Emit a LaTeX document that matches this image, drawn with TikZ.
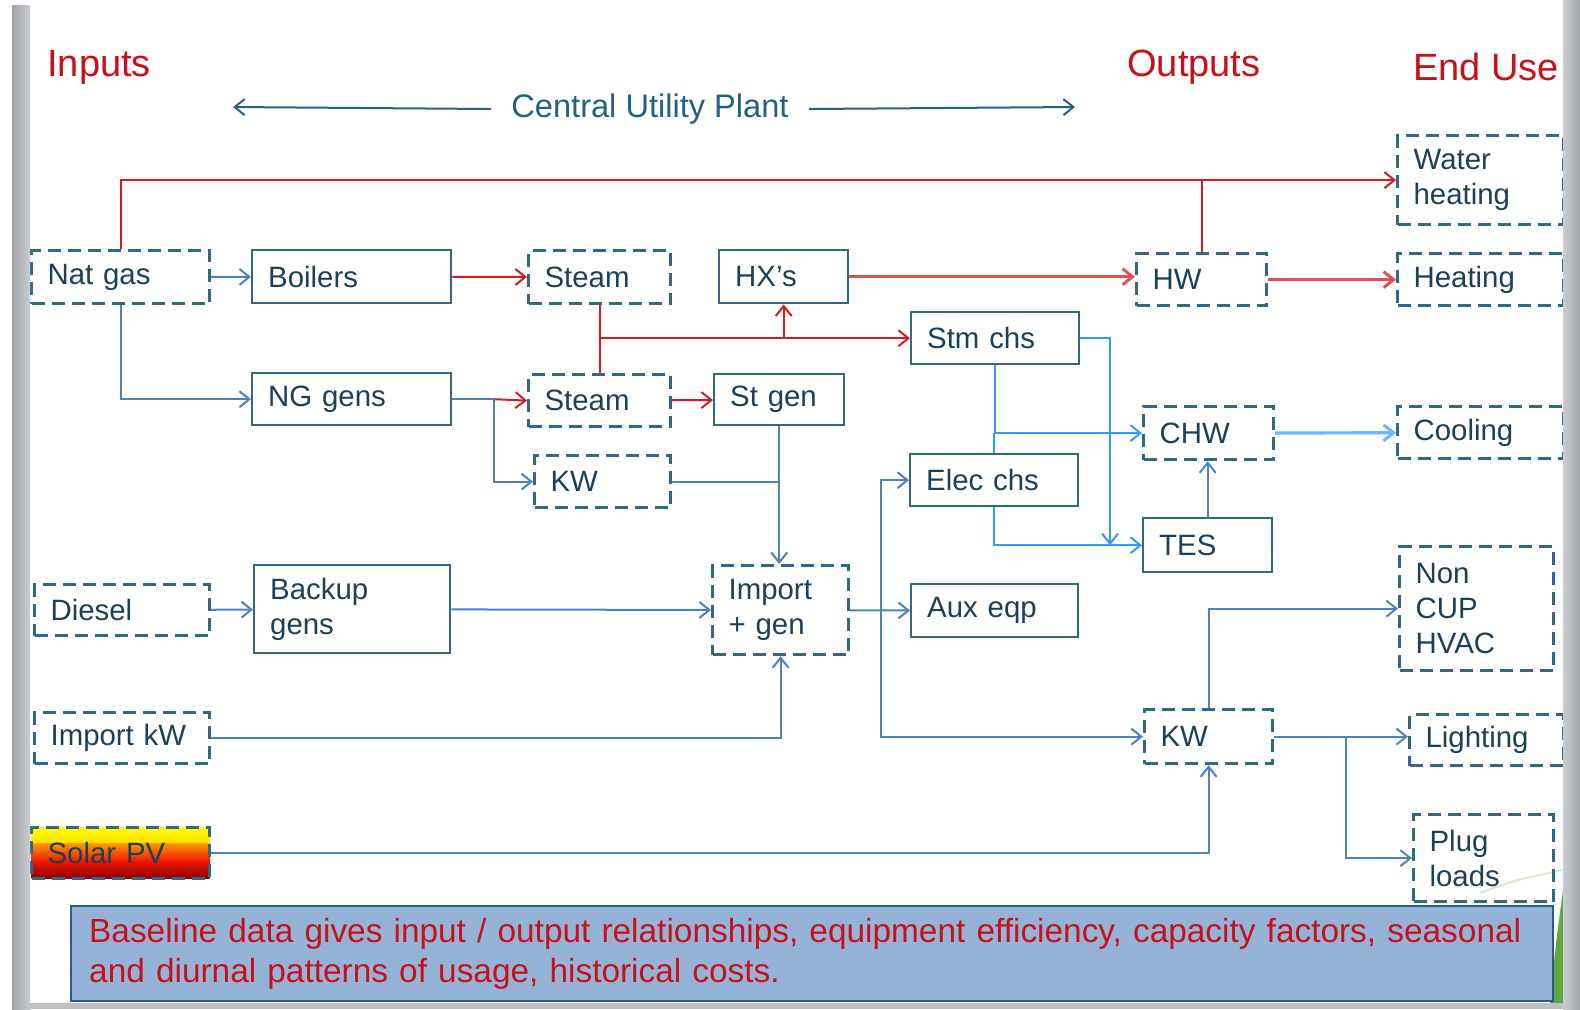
\documentclass[tikz,border=0pt]{standalone}
\usepackage{fontspec}
\setmainfont{Liberation Sans}
\usepackage{tikz}
\usetikzlibrary{arrows.meta,shapes}

\definecolor{titleRed}{RGB}{200,16,24}
\definecolor{flowRed}{RGB}{212,28,32}
\definecolor{hotRed}{RGB}{222,82,82}
\definecolor{flowBlue}{RGB}{79,129,189}
\definecolor{chillBlue}{RGB}{51,153,255}
\definecolor{coolBlue}{RGB}{110,182,255}
\definecolor{boxLine}{RGB}{49,104,133}
\definecolor{boxText}{RGB}{26,64,92}
\definecolor{plantTeal}{RGB}{36,96,128}
\definecolor{noteFill}{RGB}{149,179,215}
\definecolor{noteLine}{RGB}{40,92,140}
\definecolor{frameGray}{RGB}{160,164,169}
\definecolor{leafGreen}{RGB}{96,168,60}
\definecolor{sunOrange}{RGB}{255,150,0}
\definecolor{sunRed}{RGB}{240,20,0}
\definecolor{sunDark}{RGB}{130,0,0}

\newcommand\boxFont{\fontsize{14.7}{17.5}\selectfont}

\tikzset{
  solidBox/.style={draw=boxLine, line width=1.2pt, anchor=north west, text=boxText,
    font=\boxFont, align=left, inner xsep=8pt, inner ysep=0pt},
  dashBox/.style={solidBox, line width=1.6pt, dash pattern=on 6.5pt off 3.5pt},
  solarFill/.style={path picture={
    \shade[top color=yellow, bottom color=sunOrange]
      (path picture bounding box.north west) rectangle ([yshift=-8pt]path picture bounding box.north east);
    \shade[top color=sunOrange, bottom color=sunRed]
      ([yshift=-8pt]path picture bounding box.north west) rectangle ([yshift=-17pt]path picture bounding box.north east);
    \shade[top color=sunRed, bottom color=sunDark]
      ([yshift=-17pt]path picture bounding box.north west) rectangle (path picture bounding box.south east);}},
  redFlow/.style={flowRed, line width=1pt},
  hotFlow/.style={hotRed, line width=1.5pt},
  elecFlow/.style={flowBlue, line width=1pt},
  chillFlow/.style={chillBlue, line width=1pt},
  coolFlow/.style={coolBlue, line width=1.6pt},
  headTitle/.style={anchor=west, text=titleRed, font=\fontsize{19}{22}\selectfont, inner sep=0pt}
}

\begin{document}
\begin{tikzpicture}[x=0.5pt, y=-0.5pt, >={Straight Barb[length=5pt,width=8pt]}]
\useasboundingbox (0,0) rectangle (1580,1009);
\fill[white] (0,0) rectangle (1580,1009);

% background leaf of the slide
\fill[leafGreen] (1550,1003) .. controls (1555,950) .. (1563,890) -- (1563,1003) -- cycle;
\draw[leafGreen!25, line width=1pt] (1480,893) .. controls (1515,880) .. (1563,870);

% headings
\node (inputsTitle) [headTitle] at (47,67) {Inputs};
\node (outputsTitle) [headTitle] at (1127,67) {Outputs};
\node (endUseTitle) [headTitle] at (1413,67) {End Use};
\node (plantLabel) [text=plantTeal, font=\fontsize{16.3}{19}\selectfont, inner xsep=10pt]
  at (650,109) {Central Utility Plant};
\coordinate (plantLeft) at (233,107);
\coordinate (plantRight) at (1075,107);

% inputs
\node (natGas) [dashBox, text width=73pt, minimum height=26.5pt] at (30,249) {Nat gas};
\node (diesel) [dashBox, text width=71.5pt, minimum height=25.5pt] at (33,583) {Diesel};
\node (importKw) [dashBox, text width=71.5pt, minimum height=25.5pt] at (33,711) {Import kW};
\node (solarPv) [dashBox, solarFill, text width=73pt, minimum height=25.5pt]
  at (30,826) {Solar PV};

% plant
\node (boilers) [solidBox, text width=83.5pt, minimum height=26.5pt] at (251,249) {Boilers};
\node (ngGens) [solidBox, text width=83.5pt, minimum height=26pt] at (251,372) {NG gens};
\node (backupGens) [solidBox, text width=82pt, minimum height=44pt] at (253,564) {Backup\\gens};
\node (steamTop) [dashBox, text width=55pt, minimum height=26.5pt] at (527,249) {Steam};
\node (steamMid) [dashBox, text width=55pt, minimum height=26pt] at (527,373) {Steam};
\node (kwPlant) [dashBox, text width=52pt, minimum height=26pt] at (533,454) {KW};
\node (hxs) [solidBox, text width=48.5pt, minimum height=26.5pt] at (718,249) {HX’s};
\node (stGen) [solidBox, text width=49pt, minimum height=25.5pt] at (713,373) {St gen};
\node (importGen) [dashBox, text width=52pt, minimum height=44.5pt] at (711,564) {Import\\+ gen};
\node (stmChs) [solidBox, text width=68pt, minimum height=26pt] at (910,311) {Stm chs};
\node (elecChs) [solidBox, text width=68pt, minimum height=26pt] at (909,453) {Elec chs};
\node (auxEqp) [solidBox, text width=67.5pt, minimum height=26.5pt] at (910,583) {Aux eqp};

% outputs
\node (hw) [dashBox, text width=49pt, minimum height=26pt] at (1135,252) {HW};
\node (chw) [dashBox, text width=49pt, minimum height=26.5pt] at (1142,405) {CHW};
\node (tes) [solidBox, text width=48.5pt, minimum height=27pt] at (1142,517) {TES};
\node (kwOut) [dashBox, text width=48pt, minimum height=27pt] at (1143,708) {KW};

% end use
\node (waterHeating) [dashBox, text width=67pt, minimum height=44.5pt] at (1396,134) {Water\\heating};
\node (heating) [dashBox, text width=67pt, minimum height=26pt] at (1396,252) {Heating};
\node (cooling) [dashBox, text width=67pt, minimum height=26pt] at (1396,405) {Cooling};
\node (nonCup) [dashBox, text width=61pt, minimum height=62pt] at (1398,545) {Non\\CUP\\HVAC};
\node (lighting) [dashBox, text width=61pt, minimum height=25.5pt] at (1408,713) {Lighting};
\node (plugLoads) [dashBox, text width=54pt, minimum height=43.5pt] at (1412,813) {Plug\\loads};

% note
\node (baseNote) [solidBox, draw=noteLine, fill=noteFill, text=titleRed, inner xsep=9pt,
  text width=723pt, minimum height=47.5pt,
  font=\fontsize{16.7}{20}\selectfont] at (70,905)
  {Baseline data gives input / output relationships, equipment efficiency, capacity factors, seasonal\\
   and diurnal patterns of usage, historical costs.};

\draw[plantTeal, line width=1pt, ->] (plantLabel.west) -- (plantLeft);
\draw[plantTeal, line width=1pt, ->] (plantLabel.east) -- (plantRight);

% steam and gas
\draw[redFlow, ->] (natGas.north) |- (waterHeating.west);
\draw[redFlow] (hw.north) -- (hw.north |- waterHeating.west);
\draw[redFlow, ->] (boilers) -- (steamTop);
\draw[redFlow] (steamTop) -- (steamMid);
\coordinate (steamJoin) at (steamTop.south |- stmChs.west);
\draw[redFlow, ->] (steamJoin) -- (stmChs.west);
\draw[redFlow, ->] (hxs.south |- steamJoin) -- (hxs.south);
\draw[hotFlow, ->] (hxs.east) -- (hxs.east -| hw.west);
\draw[hotFlow, ->] (hw) -- (heating);
\coordinate (ngSplit) at ([xshift=21pt]ngGens.east);
\draw[redFlow, ->] (ngSplit) -- (steamMid.west);
\draw[redFlow, ->] (steamMid) -- (stGen);

% electricity
\draw[elecFlow, ->] (natGas) -- (boilers);
\draw[elecFlow, ->] (natGas.south) |- (ngGens.west);
\draw[elecFlow] (ngGens.east) -- (ngSplit);
\draw[elecFlow, ->] (ngSplit) |- (kwPlant.west);
\draw[elecFlow, ->] (stGen.south) -- (stGen.south |- importGen.north);
\draw[elecFlow] (kwPlant.east) -- (kwPlant.east -| stGen.south);
\draw[elecFlow, ->] (diesel) -- (backupGens);
\draw[elecFlow, ->] (backupGens) -- (importGen);
\draw[elecFlow, ->] (importKw.east) -| (importGen.south);
\draw[elecFlow, ->] (importGen) -- (auxEqp);
\coordinate (elecBus) at ([xshift=15.5pt]importGen.east);
\draw[elecFlow, ->] (elecBus) |- (elecChs.west);
\draw[elecFlow, ->] (elecBus) |- (kwOut.west);
\draw[elecFlow, ->] (solarPv.east) -| (kwOut.south);
\draw[elecFlow, ->] (kwOut.north) |- (nonCup.west);
\draw[elecFlow, ->] (kwOut.east) -- (kwOut.east -| lighting.west);
\coordinate (plugSplit) at ([xshift=36pt]kwOut.east);
\draw[elecFlow, ->] (plugSplit) |- (plugLoads.west);

% chilled water
\coordinate (tesDrop) at ([xshift=-16pt]tes.west);
\draw[chillFlow, ->] (stmChs.east) -| (tesDrop);
\draw[chillFlow, ->] (stmChs.south) |- (chw.west);
\draw[chillFlow] (elecChs.north) -- (elecChs.north |- chw.west);
\draw[chillFlow, ->] (elecChs.south) |- (tes.west);
\draw[elecFlow, ->] (tes.north) -- (tes.north |- chw.south);
\draw[coolFlow, ->] (chw) -- (cooling);

% slide frame
\fill[left color=frameGray, right color=frameGray!55] (12,5) rectangle (30,1009);
\fill[left color=frameGray!55, right color=frameGray] (1563,0) rectangle (1580,1009);
\fill[frameGray!70] (30,1003) rectangle (1563,1009);
\end{tikzpicture}
\end{document}
